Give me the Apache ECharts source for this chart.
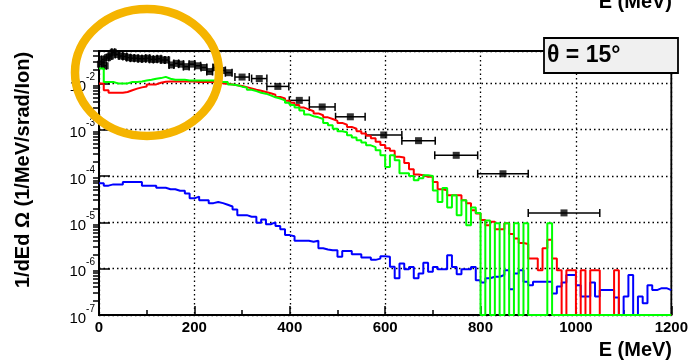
<!DOCTYPE html>
<html>
<head>
<meta charset="utf-8">
<script src="https://cdn.jsdelivr.net/npm/echarts@6/dist/echarts.min.js"></script>
<style>
    html, body { margin: 0; padding: 0; background: #fff; }
    #chart { width: 691px; height: 361px; }
</style>
</head>
<body>
<div id="chart"></div>
<script>
// histogram bins: 10 MeV wide, 0..1200 MeV
var binWidth = 10;
var xMax = 1200;
var yMin = 1e-7;
var yMax = 5e-2;

// blue histogram
var blueVals = [
    7.0e-5, 6.2e-5, 6.6e-5, 6.6e-5, 6.6e-5, 7.4e-5, 7.4e-5, 7.4e-5, 7.4e-5, 6.2e-5,
    6.2e-5, 6.2e-5, 5.6e-5, 5.6e-5, 5.2e-5, 5.2e-5, 4.8e-5, 4.8e-5, 4.2e-5, 3.3e-5,
    3.6e-5, 3.0e-5, 3.0e-5, 2.6e-5, 2.75e-5, 2.6e-5, 2.4e-5, 2.2e-5, 1.9e-5, 1.43e-5,
    1.43e-5, 1.32e-5, 1.32e-5, 9.8e-6, 1.15e-5, 9.1e-6, 1.0e-5, 8.3e-6, 7.1e-6, 5.3e-6,
    5.0e-6, 4.0e-6, 4.0e-6, 4.0e-6, 3.8e-6, 4.0e-6, 2.75e-6, 2.6e-6, 2.5e-6, 2.5e-6,
    1.8e-6, 2.4e-6, 2.4e-6, 2.05e-6, 2.05e-6, 1.74e-6, 1.74e-6, 1.55e-6, 1.65e-6, 1.86e-6,
    1.8e-6, 1.1e-6, 6.2e-7, 1.3e-6, 9.7e-7, 1.09e-6, 6.2e-7, 7.9e-7, 1.35e-6, 8.6e-7,
    1.09e-6, 9.7e-7, 9.7e-7, 1.96e-6, 1.09e-6, 7.6e-7, 9.7e-7, 9.7e-7, 1.09e-6, 5.6e-7,
    5.0e-7, 6.2e-7, 6.7e-7, 6.7e-7, 7.3e-7, 9.3e-7, 3.6e-7, 7.9e-7, 9.3e-7, 5.2e-7,
    4.4e-7, 5.2e-7, 5.2e-7, 5.2e-7, 5.2e-7, 2.9e-7, 4.1e-7, 5.0e-7, 7.3e-7, 7.3e-7,
    4.4e-7, 2.5e-7, 2.5e-7, 5.0e-7, 2.5e-7, 3.45e-7, 3.45e-7, 3.45e-7, 2.4e-7, 0,
    2.5e-7, 7.3e-7, 0, 2.5e-7, 1.8e-7, 4.4e-7, 3.45e-7, 3.8e-7, 3.8e-7, 3.45e-7
];

// red histogram
var redVals = [
    1.0e-2, 7.1e-3, 6.3e-3, 6.3e-3, 6.3e-3, 6.5e-3, 7.1e-3, 7.7e-3, 8.2e-3, 8.6e-3,
    9.5e-3, 9.5e-3, 1.03e-2, 1.08e-2, 1.1e-2, 1.1e-2, 1.1e-2, 1.1e-2, 1.1e-2, 1.1e-2,
    1.07e-2, 1.07e-2, 1.07e-2, 1.07e-2, 1.07e-2, 1.0e-2, 9.8e-3, 9.5e-3, 9.1e-3, 8.8e-3,
    8.3e-3, 7.8e-3, 7.3e-3, 6.9e-3, 6.5e-3, 6.1e-3, 5.7e-3, 5.1e-3, 4.7e-3, 4.2e-3,
    3.8e-3, 3.4e-3, 3.0e-3, 2.75e-3, 2.5e-3, 2.25e-3, 2.05e-3, 1.85e-3, 1.7e-3, 1.55e-3,
    1.4e-3, 1.28e-3, 1.15e-3, 1.05e-3, 9.3e-4, 8.3e-4, 7.4e-4, 6.5e-4, 5.5e-4, 4.7e-4,
    4.0e-4, 3.5e-4, 2.6e-4, 2.5e-4, 1.9e-4, 1.4e-4, 1.08e-4, 1.04e-4, 9.6e-5, 9.6e-5,
    7.4e-5, 5.2e-5, 4.9e-5, 3.85e-5, 3.85e-5, 3.85e-5, 3.0e-5, 2.6e-5, 1.83e-5, 1.55e-5,
    1.12e-5, 8.7e-6, 1.03e-5, 7.1e-6, 7.1e-6, 9.6e-6, 5.6e-6, 4.5e-6, 3.6e-6, 3.4e-6,
    1.66e-6, 1.66e-6, 9.3e-7, 2.75e-6, 4.2e-6, 1.66e-6, 9.3e-7, 0, 9.3e-7, 9.3e-7,
    0, 9.3e-7, 0, 9.3e-7, 9.3e-7, 0, 0, 0, 9.3e-7, 0,
    0, 0, 0, 0, 0, 0, 0, 0, 0, 0
];

// green histogram
var greenVals = [
    2.1e-2, 1.07e-2, 1.07e-2, 1.0e-2, 1.0e-2, 1.0e-2, 1.07e-2, 1.07e-2, 1.1e-2, 1.15e-2,
    1.2e-2, 1.26e-2, 1.3e-2, 1.38e-2, 1.26e-2, 1.2e-2, 1.2e-2, 1.2e-2, 1.16e-2, 1.16e-2,
    1.16e-2, 1.16e-2, 1.16e-2, 1.16e-2, 1.16e-2, 1.07e-2, 1.07e-2, 9.5e-3, 9.1e-3, 8.5e-3,
    8.1e-3, 7.3e-3, 6.8e-3, 6.3e-3, 6.0e-3, 5.5e-3, 5.0e-3, 4.7e-3, 4.3e-3, 3.8e-3,
    3.4e-3, 3.0e-3, 2.6e-3, 2.14e-3, 1.95e-3, 1.85e-3, 1.7e-3, 1.4e-3, 1.25e-3, 1.05e-3,
    9.3e-4, 8.8e-4, 7.6e-4, 6.8e-4, 5.9e-4, 5.3e-4, 4.6e-4, 4.2e-4, 3.6e-4, 2.8e-4,
    1.57e-4, 2.8e-4, 2.2e-4, 1.15e-4, 1.15e-4, 1.0e-4, 8.1e-5, 9.0e-5, 1.04e-4, 1.0e-4,
    4.9e-5, 2.75e-5, 5.5e-5, 2.1e-5, 3.85e-5, 1.43e-5, 3.0e-5, 8.7e-6, 2.1e-5, 1.6e-5,
    0, 1.1e-5, 0, 9.6e-6, 0, 9.6e-6, 0, 9.6e-6, 0, 9.6e-6,
    0, 0, 0, 0, 9.6e-6, 0, 0, 0, 0, 0,
    0, 0, 0, 0, 0, 0, 0, 0, 0, 0,
    0, 0, 0, 0, 0, 0, 0, 0, 0, 0
];

// black data points: energy (MeV), value, half bin width
var dataE = [3, 8, 13, 18, 24, 30, 38, 46, 54, 62, 70, 78, 86, 94, 102, 110, 118, 126, 134, 142,
    152, 162, 172, 183, 195, 207, 220, 232, 245, 258, 272, 300, 336, 375, 420, 468, 527, 597, 670, 749, 847, 975];
var dataVal = [2.6e-2, 3.3e-2, 2.4e-2, 3.6e-2, 3.9e-2, 4.7e-2, 4.2e-2, 3.9e-2, 3.8e-2, 3.6e-2,
    3.5e-2, 3.5e-2, 3.4e-2, 3.4e-2, 3.5e-2, 3.3e-2, 3.3e-2, 3.4e-2, 3.2e-2, 3.2e-2,
    2.5e-2, 2.7e-2, 2.6e-2, 2.3e-2, 2.6e-2, 2.4e-2, 2.2e-2, 1.8e-2, 2.2e-2, 1.9e-2,
    1.7e-2, 1.37e-2, 1.27e-2, 8.6e-3, 4.3e-3, 3.1e-3, 1.9e-3, 7.7e-4, 5.8e-4, 2.8e-4, 1.12e-4, 1.6e-5];
var dataErr = [2.5, 2.5, 2.5, 2.5, 3, 3, 4, 4, 4, 4, 4, 4, 4, 4, 4, 4, 4, 4, 4, 4,
    5, 5, 5, 6, 6, 6, 6, 6, 6, 7, 7, 15, 16, 23, 21, 27, 31, 38, 35, 45, 53, 75];

function histPoints(vals) {
    var pts = [];
    for (var i = 0; i < vals.length; i++) {
        pts.push([i * binWidth, Math.max(vals[i], yMin)]);
    }
    pts.push([xMax, Math.max(vals[vals.length - 1], yMin)]);
    return pts;
}

function histSeries(vals, color) {
    return {
        type: 'line',
        step: 'end',
        data: histPoints(vals),
        showSymbol: false,
        clip: false,
        lineStyle: {color: color, width: 2},
        animation: false
    };
}

// minor log ticks, in log10 space for the helper axis
var minorTicks = [];
for (var n = -7; n <= -2; n++) {
    for (var k = 2; k <= 9; k++) {
        var v = Math.log10(k * Math.pow(10, n));
        if (v <= Math.log10(yMax)) minorTicks.push(v);
    }
}

var font = 'Liberation Sans, Arial, sans-serif';
var chart = echarts.init(document.getElementById('chart'));

chart.setOption({
    animation: false,
    grid: {
        left: 99, right: 13, top: 51, bottom: 46,
        show: true, borderColor: '#000', borderWidth: 1.8
    },
    xAxis: {
        type: 'value',
        min: 0, max: xMax, interval: 200,
        axisLine: {lineStyle: {color: '#000', width: 2}},
        axisTick: {inside: true, length: 9, lineStyle: {color: '#000', width: 1.5}},
        minorTick: {show: true, splitNumber: 2, length: 5, lineStyle: {color: '#000', width: 1.5}},
        axisLabel: {
            color: '#000', fontFamily: font, fontSize: 15, fontWeight: 'bold', margin: 5,
            formatter: function (val) { return String(val); }
        },
        splitLine: {show: true, lineStyle: {color: '#000', type: [1.5, 3], width: 1.3}}
    },
    yAxis: [{
        type: 'log',
        logBase: 10,
        min: yMin, max: yMax,
        axisLine: {onZero: false, lineStyle: {color: '#000', width: 2}},
        axisTick: {inside: true, length: 11, lineStyle: {color: '#000', width: 1.5}},
        axisLabel: {
            showMaxLabel: false,
            margin: 4,
            formatter: function (val) {
                var e = Math.round(Math.log10(val));
                return '{b|10}{s|' + e + '}';
            },
            rich: {
                b: {fontFamily: font, fontSize: 15, color: '#000', lineHeight: 22, verticalAlign: 'bottom'},
                s: {fontFamily: font, fontSize: 10, color: '#000', lineHeight: 22, verticalAlign: 'top'}
            }
        },
        splitLine: {show: true, lineStyle: {color: '#000', type: [1.5, 3], width: 1.3}}
    }, {
        type: 'value',
        min: -7, max: Math.log10(yMax),
        axisLine: {show: false},
        axisLabel: {show: false},
        splitLine: {show: false},
        axisTick: {show: true, inside: true, length: 6, customValues: minorTicks,
            lineStyle: {color: '#000', width: 1.5}}
    }],
    graphic: [
        {
            type: 'rect', z: 100,
            shape: {x: 544, y: 38, width: 134, height: 35},
            style: {fill: '#f0f0f0', stroke: '#000', lineWidth: 1.8}
        },
        {
            type: 'text', z: 101, x: 547, y: 56,
            style: {text: 'θ = 15°', font: 'bold 23px ' + font, fill: '#000', verticalAlign: 'middle'}
        },
        {
            type: 'text', z: 101, x: 672, y: 360,
            style: {text: 'E (MeV)', font: 'bold 20px ' + font, fill: '#000', align: 'right', verticalAlign: 'bottom'}
        },
        {
            type: 'text', z: 101, x: 672, y: 12,
            style: {text: 'E (MeV)', font: 'bold 20px ' + font, fill: '#000', align: 'right', verticalAlign: 'bottom'}
        },
        {
            type: 'text', z: 101, x: 23, y: 170, rotation: Math.PI / 2,
            style: {text: '1/dEd Ω (1/MeV/srad/Ion)', font: 'bold 20px ' + font, fill: '#000',
                align: 'center', verticalAlign: 'middle'}
        },
        {
            type: 'ellipse', z: 110,
            shape: {cx: 147, cy: 72.5, rx: 72, ry: 63.5},
            style: {fill: 'none', stroke: '#f5b400', lineWidth: 8.5}
        }
    ],
    series: [
        histSeries(blueVals, '#0000ff'),
        histSeries(redVals, '#ff0000'),
        histSeries(greenVals, '#00ff00'),
        {
            type: 'custom',
            clip: false,
            data: dataE.map(function (e, i) { return [e, dataVal[i], dataErr[i]]; }),
            encode: {x: 0, y: 1},
            renderItem: function (params, api) {
                var x = api.value(0), y = api.value(1), h = api.value(2);
                var a = api.coord([x - h, y]);
                var b = api.coord([x + h, y]);
                var st = {stroke: '#000', lineWidth: 1.5};
                return {
                    type: 'group',
                    children: [
                        {type: 'line', shape: {x1: a[0], y1: a[1], x2: b[0], y2: b[1]}, style: st},
                        {type: 'line', shape: {x1: a[0], y1: a[1] - 4, x2: a[0], y2: a[1] + 4}, style: st},
                        {type: 'line', shape: {x1: b[0], y1: b[1] - 4, x2: b[0], y2: b[1] + 4}, style: st}
                    ]
                };
            }
        },
        {
            type: 'scatter',
            clip: false,
            data: dataE.map(function (e, i) { return [e, dataVal[i]]; }),
            symbol: 'rect',
            symbolSize: 7,
            itemStyle: {color: '#000'}
        }
    ]
});

window.onresize = function () {
    chart.resize();
};
</script>
</body>
</html>
